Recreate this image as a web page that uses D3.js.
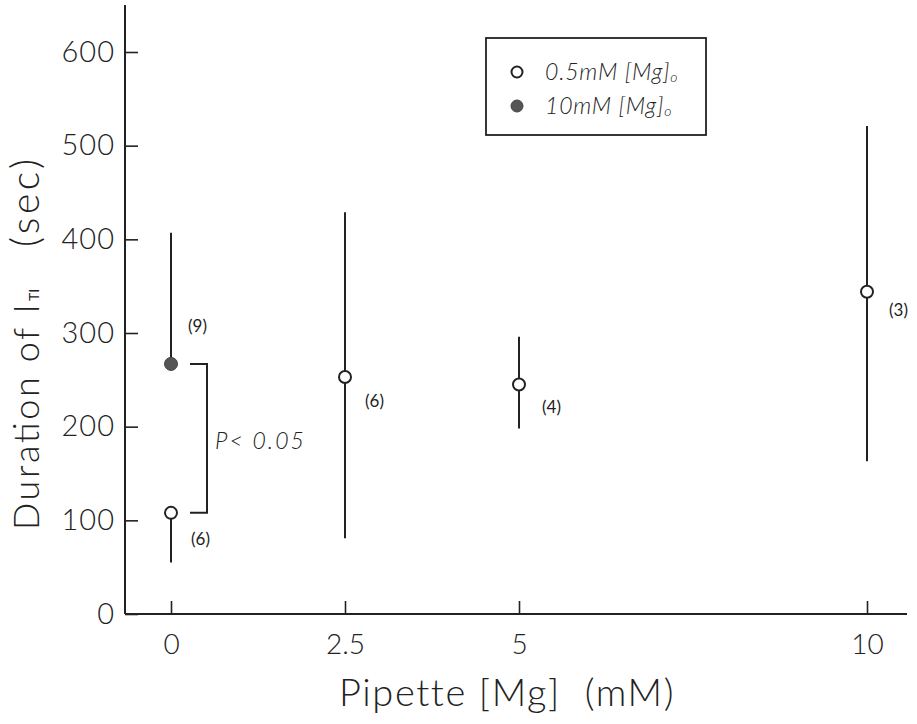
<!DOCTYPE html>
<html><head><meta charset="utf-8">
<script src="https://cdn.jsdelivr.net/npm/d3@7"></script>
<style>body{margin:0;background:#fff}svg{display:block}text{font-family:Lato,"DejaVu Sans",sans-serif;fill:#222}</style>
</head><body>
<svg id="c" width="917" height="724"></svg>
<script>
// Data
const xTicks = [0, 2.5, 5, 10];
const yTicks = [0, 100, 200, 300, 400, 500, 600];
// open circles: 0.5mM [Mg]o
const openX    = [0, 2.5, 5, 10];
const openMean = [108, 253, 245, 344];
const openLow  = [55, 81, 198, 163];
const openHigh = [108, 429, 296, 521];
const openN    = ["(6)", "(6)", "(4)", "(3)"];
// filled circles: 10mM [Mg]o
const fillX    = [0];
const fillMean = [267];
const fillLow  = [267];
const fillHigh = [407];
const fillN    = ["(9)"];
const legendLabels = ["0.5mM [Mg]", "10mM [Mg]"];

const svg = d3.select("#c");
const x = d3.scaleLinear().domain([0, 10]).range([171, 867]);
const y = d3.scaleLinear().domain([0, 600]).range([614, 52]);
const ink = "#222";

// axes
const yAxis = d3.axisLeft(y).tickValues(yTicks).tickSizeInner(-13).tickSizeOuter(0).tickPadding(10);
const gy = svg.append("g").attr("transform", "translate(125,0)").call(yAxis);
gy.select(".domain").remove();
gy.selectAll("line").attr("stroke", ink).attr("stroke-width", 1.6);
gy.selectAll("text").attr("font-size", 29).attr("font-weight", 300).attr("letter-spacing", 1).attr("fill", ink);
svg.append("line").attr("x1", 125).attr("x2", 125).attr("y1", 5).attr("y2", y(0)).attr("stroke", ink).attr("stroke-width", 2);

const xAxis = d3.axisBottom(x).tickValues(xTicks).tickSizeInner(-13).tickSizeOuter(0).tickPadding(20).tickFormat(d => d);
const gx = svg.append("g").attr("transform", `translate(0,${y(0)})`).call(xAxis);
gx.select(".domain").remove();
gx.selectAll("line").attr("stroke", ink).attr("stroke-width", 1.6);
gx.selectAll("text").attr("font-size", 28).attr("font-weight", 300).attr("fill", ink);
svg.append("line").attr("x1", 125).attr("x2", 907).attr("y1", y(0)).attr("y2", y(0)).attr("stroke", ink).attr("stroke-width", 2);

// axis titles
svg.append("text").attr("x", 507).attr("y", 706).attr("text-anchor", "middle")
  .attr("font-size", 38).attr("font-weight", 300).attr("letter-spacing", 1.6)
  .style("white-space", "pre").text("Pipette [Mg]  (mM)");
svg.append("text").attr("transform", "translate(39,530) rotate(-90)").attr("text-anchor", "start")
  .attr("font-size", 36).attr("font-weight", 300)
  .attr("textLength", 226).attr("lengthAdjust", "spacing").text("Duration of I");
svg.append("text").attr("transform", "translate(39,301) rotate(-90)").attr("text-anchor", "start")
  .attr("font-size", 14).attr("font-weight", 400).text("TI");
svg.append("text").attr("transform", "translate(39,159) rotate(-90)").attr("text-anchor", "end")
  .attr("font-size", 39).attr("font-weight", 300)
  .attr("textLength", 88).attr("lengthAdjust", "spacing").text("(sec)");

// error bars
function bars(xs, lo, hi) {
  svg.append("g").selectAll("line").data(xs).join("line")
    .attr("x1", d => x(d)).attr("x2", d => x(d))
    .attr("y1", (d, i) => y(lo[i])).attr("y2", (d, i) => y(hi[i]))
    .attr("stroke", ink).attr("stroke-width", 2);
}
bars(openX, openLow, openHigh);
bars(fillX, fillLow, fillHigh);

// bracket
const bx = 207;
svg.append("path").attr("d", `M${bx - 17},${y(fillMean[0])}H${bx}V${y(openMean[0])}H${bx - 17}`)
  .attr("fill", "none").attr("stroke", ink).attr("stroke-width", 2);
svg.append("text").attr("x", 215).attr("y", 449).attr("font-size", 23).attr("font-style", "italic")
  .attr("font-weight", 300).attr("letter-spacing", 2).text("P< 0.05");

// points
svg.append("g").selectAll("circle").data(openX).join("circle")
  .attr("cx", d => x(d)).attr("cy", (d, i) => y(openMean[i])).attr("r", 6)
  .attr("fill", "#fff").attr("stroke", ink).attr("stroke-width", 2);
svg.append("g").selectAll("circle").data(fillX).join("circle")
  .attr("cx", d => x(d)).attr("cy", (d, i) => y(fillMean[i])).attr("r", 6.5)
  .attr("fill", "#555").attr("stroke", "#444").attr("stroke-width", 1);

// n labels
const openNOff = [[20, 32], [20, 30], [23, 28], [22, 24]];
svg.append("g").selectAll("text").data(openX).join("text")
  .attr("x", (d, i) => x(d) + openNOff[i][0]).attr("y", (d, i) => y(openMean[i]) + openNOff[i][1])
  .attr("font-size", 17).text((d, i) => openN[i]);
svg.append("g").selectAll("text").data(fillX).join("text")
  .attr("x", d => x(d) + 17).attr("y", (d, i) => y(fillMean[i]) - 32)
  .attr("font-size", 17).text((d, i) => fillN[i]);

// legend
svg.append("rect").attr("x", 486).attr("y", 38).attr("width", 220).attr("height", 97)
  .attr("fill", "none").attr("stroke", ink).attr("stroke-width", 1.8);
const ly = [72, 106];
legendLabels.forEach((lab, i) => {
  if (i === 0) svg.append("circle").attr("cx", 517).attr("cy", ly[i]).attr("r", 5.5).attr("fill", "#fff").attr("stroke", ink).attr("stroke-width", 2);
  else svg.append("circle").attr("cx", 517).attr("cy", ly[i]).attr("r", 6).attr("fill", "#555").attr("stroke", "#444");
  const t = svg.append("text").attr("x", 545).attr("y", ly[i] + 8).attr("font-size", 23)
    .attr("font-style", "italic").attr("font-weight", 300).attr("letter-spacing", 0.8);
  t.append("tspan").text(lab);
  t.append("tspan").attr("font-size", 14).attr("dy", 2).text("o");
});
</script>
</body></html>
